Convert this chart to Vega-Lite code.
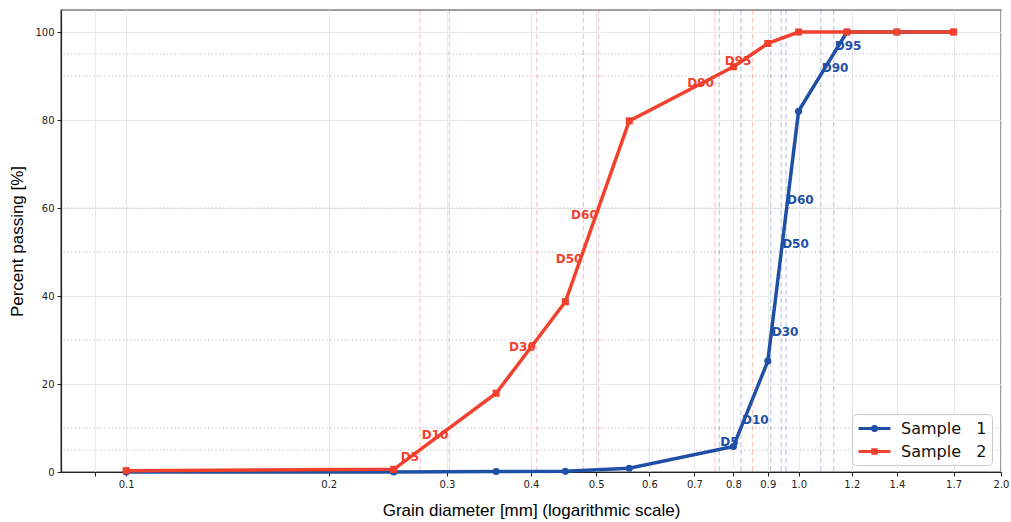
{
  "$schema": "https://vega.github.io/schema/vega-lite/v6.json",
  "width": 940,
  "height": 462,
  "autosize": {"type": "none"},
  "padding": {"left": 61, "top": 10, "right": 10, "bottom": 50},
  "background": "white",
  "config": {
    "view": {"stroke": "#7f7f7f", "strokeWidth": 1.5},
    "axis": {
      "labelFont": "DejaVu Sans",
      "labelFontSize": 10,
      "labelColor": "#222222",
      "titleFont": "Liberation Sans",
      "titleFontSize": 17,
      "titleFontWeight": "normal",
      "titleColor": "#000000",
      "domainColor": "#222222",
      "domainWidth": 1.2,
      "tickColor": "#222222",
      "tickSize": 4,
      "gridColor": "#e8e8e8",
      "gridWidth": 1
    }
  },
  "datasets": {
    "curves": [
      {"sample": "Sample 1", "d": 0.1, "p": 0},
      {"sample": "Sample 1", "d": 0.25, "p": 0},
      {"sample": "Sample 1", "d": 0.355, "p": 0.1},
      {"sample": "Sample 1", "d": 0.45, "p": 0.15},
      {"sample": "Sample 1", "d": 0.56, "p": 0.85},
      {"sample": "Sample 1", "d": 0.8, "p": 5.8},
      {"sample": "Sample 1", "d": 0.9, "p": 25.2},
      {"sample": "Sample 1", "d": 1.0, "p": 82},
      {"sample": "Sample 1", "d": 1.18, "p": 100},
      {"sample": "Sample 1", "d": 1.4, "p": 100},
      {"sample": "Sample 1", "d": 1.7, "p": 100},
      {"sample": "Sample 2", "d": 0.1, "p": 0.3},
      {"sample": "Sample 2", "d": 0.25, "p": 0.6},
      {"sample": "Sample 2", "d": 0.355, "p": 17.9},
      {"sample": "Sample 2", "d": 0.45, "p": 38.7},
      {"sample": "Sample 2", "d": 0.56, "p": 79.8},
      {"sample": "Sample 2", "d": 0.8, "p": 92.1},
      {"sample": "Sample 2", "d": 0.9, "p": 97.4},
      {"sample": "Sample 2", "d": 1.0, "p": 100},
      {"sample": "Sample 2", "d": 1.18, "p": 100},
      {"sample": "Sample 2", "d": 1.4, "p": 100},
      {"sample": "Sample 2", "d": 1.7, "p": 100}
    ],
    "dvals": [
      {"sample": "Sample 1", "level": "D5", "d": 0.762, "p": 5},
      {"sample": "Sample 1", "level": "D10", "d": 0.821, "p": 10},
      {"sample": "Sample 1", "level": "D30", "d": 0.909, "p": 30},
      {"sample": "Sample 1", "level": "D50", "d": 0.942, "p": 50},
      {"sample": "Sample 1", "level": "D60", "d": 0.958, "p": 60},
      {"sample": "Sample 1", "level": "D90", "d": 1.079, "p": 90},
      {"sample": "Sample 1", "level": "D95", "d": 1.128, "p": 95},
      {"sample": "Sample 2", "level": "D5", "d": 0.2736, "p": 5},
      {"sample": "Sample 2", "level": "D10", "d": 0.3024, "p": 10},
      {"sample": "Sample 2", "level": "D30", "d": 0.408, "p": 30},
      {"sample": "Sample 2", "level": "D50", "d": 0.4786, "p": 50},
      {"sample": "Sample 2", "level": "D60", "d": 0.5045, "p": 60},
      {"sample": "Sample 2", "level": "D90", "d": 0.751, "p": 90},
      {"sample": "Sample 2", "level": "D95", "d": 0.8537, "p": 95}
    ],
    "levels": [{"p": 5}, {"p": 10}, {"p": 30}, {"p": 50}, {"p": 60}, {"p": 90}, {"p": 95}]
  },
  "layer": [
    {
      "data": {"name": "levels"},
      "mark": {"type": "rule", "color": "#b8b8b8", "strokeWidth": 1, "strokeDash": [1.2, 2.5]},
      "encoding": {
        "y": {"field": "p", "type": "quantitative", "scale": {"domain": [0, 105]}}
      }
    },
    {
      "data": {"name": "dvals"},
      "mark": {"type": "rule", "strokeWidth": 1.2, "strokeDash": [5, 3], "opacity": 0.3},
      "encoding": {
        "x": {"field": "d", "type": "quantitative"},
        "color": {"field": "sample", "type": "nominal"}
      }
    },
    {
      "data": {"name": "curves"},
      "mark": {"type": "line", "strokeWidth": 3.5},
      "encoding": {
        "x": {
          "field": "d",
          "type": "quantitative",
          "scale": {"type": "log", "domain": [0.08, 2.0], "nice": false},
          "axis": {
            "title": "Grain diameter [mm] (logarithmic scale)",
            "titlePadding": 13,
            "values": [0.09, 0.1, 0.2, 0.3, 0.4, 0.5, 0.6, 0.7, 0.8, 0.9, 1.0, 1.2, 1.4, 1.7, 2.0],
            "labelExpr": "datum.value < 0.095 ? '' : format(datum.value, '.1f')",
            "labelFlush": false,
            "labelOverlap": false,
            "labelPadding": 3,
            "grid": true
          }
        },
        "y": {
          "field": "p",
          "type": "quantitative",
          "scale": {"domain": [0, 105], "nice": false},
          "axis": {
            "title": "Percent passing [%]",
            "titlePadding": 8,
            "values": [0, 20, 40, 60, 80, 100],
            "labelPadding": 3,
            "grid": true
          }
        },
        "color": {
          "field": "sample",
          "type": "nominal",
          "scale": {"domain": ["Sample 1", "Sample 2"], "range": ["#1f50a6", "#f1412d"]},
          "legend": {
            "title": null,
            "orient": "none",
            "legendX": 791,
            "legendY": 404,
            "padding": 5,
            "fillColor": "white",
            "strokeColor": "#cccccc",
            "cornerRadius": 4,
            "labelFont": "DejaVu Sans",
            "labelFontSize": 16,
            "labelColor": "#111111",
            "labelOffset": 25,
            "rowPadding": 5,
            "symbolSize": 256,
            "symbolStrokeWidth": 3,
            "symbolType": "M-1,0L3,0M0.75,0A0.25,0.25,0,1,1,1.25,0A0.25,0.25,0,1,1,0.75,0Z",
            "labelExpr": "datum.value == 'Sample 1' ? 'Sample\u00a0\u00a0 1' : 'Sample\u00a0\u00a0 2'",
            "encode": {
              "symbols": {
                "update": {
                  "shape": {"signal": "datum.value == 'Sample 1' ? 'M-1,0L3,0M0.75,0A0.25,0.25,0,1,1,1.25,0A0.25,0.25,0,1,1,0.75,0Z' : 'M-1,0L3,0M0.78,-0.22L1.22,-0.22L1.22,0.22L0.78,0.22Z'"},
                  "fill": {"signal": "datum.value == 'Sample 1' ? '#1f50a6' : '#f1412d'"},
                  "stroke": {"signal": "datum.value == 'Sample 1' ? '#1f50a6' : '#f1412d'"},
                  "strokeWidth": {"value": 3}
                }
              }
            }
          }
        }
      }
    },
    {
      "data": {"name": "curves"},
      "transform": [{"filter": "datum.sample == 'Sample 1'"}],
      "mark": {"type": "point", "shape": "circle", "filled": true, "opacity": 1, "size": 50},
      "encoding": {
        "x": {"field": "d", "type": "quantitative"},
        "y": {"field": "p", "type": "quantitative"},
        "color": {"field": "sample", "type": "nominal"}
      }
    },
    {
      "data": {"name": "curves"},
      "transform": [{"filter": "datum.sample == 'Sample 2'"}],
      "mark": {"type": "point", "shape": "square", "filled": true, "opacity": 1, "size": 50},
      "encoding": {
        "x": {"field": "d", "type": "quantitative"},
        "y": {"field": "p", "type": "quantitative"},
        "color": {"field": "sample", "type": "nominal"}
      }
    },
    {
      "data": {"name": "dvals"},
      "transform": [{"filter": "datum.sample == 'Sample 1'"}],
      "mark": {"type": "text", "align": "left", "baseline": "bottom", "dx": 1, "dy": -1, "font": "DejaVu Sans", "fontWeight": "bold", "fontSize": 12},
      "encoding": {
        "x": {"field": "d", "type": "quantitative"},
        "y": {"field": "p", "type": "quantitative"},
        "text": {"field": "level"},
        "color": {"field": "sample", "type": "nominal"}
      }
    },
    {
      "data": {"name": "dvals"},
      "transform": [{"filter": "datum.sample == 'Sample 2'"}],
      "mark": {"type": "text", "align": "right", "baseline": "top", "dx": -1, "dy": 2, "font": "DejaVu Sans", "fontWeight": "bold", "fontSize": 12},
      "encoding": {
        "x": {"field": "d", "type": "quantitative"},
        "y": {"field": "p", "type": "quantitative"},
        "text": {"field": "level"},
        "color": {"field": "sample", "type": "nominal"}
      }
    }
  ]
}
